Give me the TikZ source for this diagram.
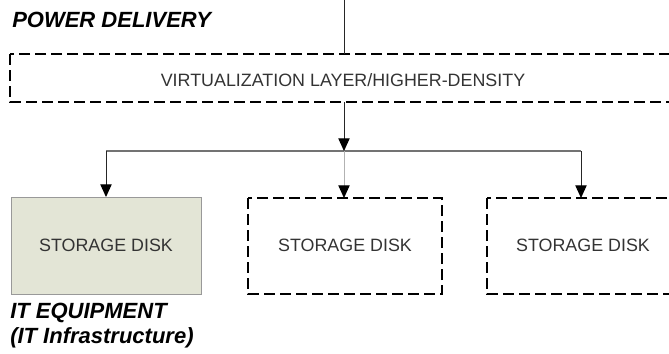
\documentclass[tikz,border=0pt]{standalone}
\usepackage{fontspec}
\setmainfont{Liberation Sans}
\usetikzlibrary{arrows.meta}
\begin{document}
\begin{tikzpicture}[x=0.75pt,y=-0.75pt,
  dashbox/.style={draw=black,line width=2.2pt,dash pattern=on 8.4pt off 3.6pt},
  plainbox/.style={draw=black!40,line width=0.6pt,fill={rgb,255:red,227;green,229;blue,214}},
  wire/.style={draw=black!85,line width=0.75pt},
  bus/.style={draw=black!55,line width=0.8pt},
  feed/.style={wire,-{Triangle[length=9.5pt,width=8.5pt,color=black]}},
  boxtext/.style={font=\fontsize{13.4pt}{15pt}\selectfont,text=black!80},
  heading/.style={font=\fontsize{16.5pt}{19pt}\selectfont\bfseries\itshape,anchor=west,inner sep=0pt}]
  \useasboundingbox (0,0) rectangle (669,354);
  \clip (0,0) rectangle (669,354);

  % virtualization layer spanning the rack
  \draw[dashbox] (10,54) rectangle (676,102);
  \node[boxtext] (vlayer) at (343,80) {VIRTUALIZATION LAYER/HIGHER-DENSITY};
  \coordinate (vtop) at (344,54);
  \coordinate (vbot) at (344,102);
  \coordinate (src) at (344,0);

  % storage disks
  \draw[plainbox] (11,197) rectangle (201,294);
  \node[boxtext] (d1) at (106,245) {STORAGE DISK};
  \draw[dashbox] (248,198) rectangle (442,294);
  \node[boxtext] (d2) at (345,245) {STORAGE DISK};
  \draw[dashbox] (487,198) rectangle (681,294);
  \node[boxtext] (d3) at (583,245) {STORAGE DISK};
  \coordinate (t1) at (106,197);
  \coordinate (t2) at (344,198);
  \coordinate (t3) at (581,198);

  % distribution bus
  \coordinate (hub) at (344,151);
  \coordinate (busL) at (106,151);
  \coordinate (busR) at (581,151);

  \draw[wire] (src) -- (vtop);
  \draw[bus] (busL) -- (busR);
  \draw[feed] (vbot) -- (hub);
  \draw[feed] (busL) -- (t1);
  \draw[feed,draw=black!30] (hub) -- (t2);
  \draw[feed] (busR) -- (t3);

  % labels
  \node[heading] (power) at (12,20) {POWER DELIVERY};
  \node[heading] (itequip) at (10,313) {IT EQUIPMENT};
  \node[heading] (itinfra) at (10,338) {(IT Infrastructure)};
\end{tikzpicture}
\end{document}
